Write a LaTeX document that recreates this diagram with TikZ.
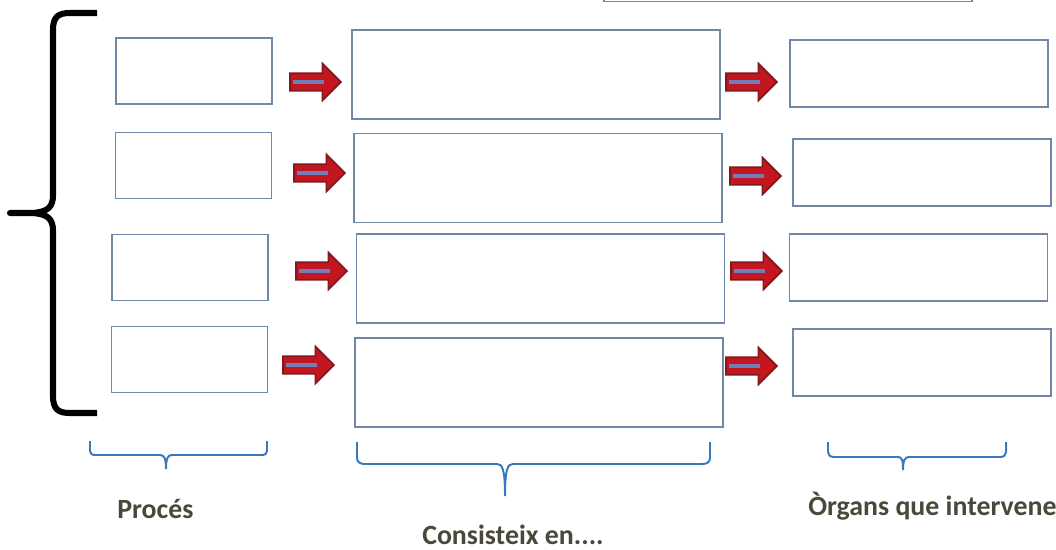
\documentclass[tikz,border=0pt]{standalone}
\usepackage{fontspec}
\setmainfont{Carlito}
\usetikzlibrary{shapes.arrows,positioning}

\definecolor{boxline}{RGB}{112,136,166}
\definecolor{bracecol}{RGB}{58,120,190}
\definecolor{arrowfill}{RGB}{196,22,30}
\definecolor{arrowline}{RGB}{130,24,30}
\definecolor{barcol}{RGB}{112,126,190}
\definecolor{textcol}{RGB}{74,72,58}

\begin{document}
\begin{tikzpicture}
    [x=0.025cm,y=-0.025cm,
    box/.style={rectangle,draw=boxline,line width=0.9pt,
    inner sep=0pt,outer sep=0pt},
    procbox/.style={box,minimum width=3.9cm,minimum height=1.65cm},
    widebox/.style={box,minimum width=9.2cm,minimum height=2.225cm},
    organbox/.style={box,minimum width=6.45cm,minimum height=1.675cm},
    blockarrow/.style={single arrow,fill=arrowfill,draw=arrowline,line width=1.2pt,
    minimum height=1.27cm,minimum width=0.9cm,inner xsep=0pt,inner ysep=0.2cm,
    single arrow head extend=0.24cm},
    bar/.style={barcol,line width=3.4pt},
    bigbrace/.style={line width=4.3pt,line join=round},
    smallbrace/.style={draw=bracecol,line width=1.4pt},
    caption/.style={text=textcol,font=\fontsize{19.8}{22}\selectfont\bfseries,
    inner sep=0pt,anchor=base west}]
    \useasboundingbox (0,0) rectangle (1056,549);
    \clip (0,0) rectangle (1056,549);
    % box at the top, cut by the edge
    \node[widebox] (top) at (788,-43) {};
    % processes
    \node[procbox] (proc1) at (194,71) {};
    \node[procbox] (proc2) at (193.5,165.5) {};
    \node[procbox] (proc3) at (190,267.5) {};
    \node[procbox] (proc4) at (189.5,359.5) {};
    % what they consist of
    \node[widebox] (cons1) at (536,74.5) {};
    \node[widebox] (cons2) at (538,178) {};
    \node[widebox] (cons3) at (540.5,278.5) {};
    \node[widebox] (cons4) at (539,382.5) {};
    % organs
    \node[organbox] (organ1) at (919,73.5) {};
    \node[organbox] (organ2) at (922,172.5) {};
    \node[organbox] (organ3) at (918.5,267.5) {};
    \node[organbox] (organ4) at (922,362.5) {};
    % arrows
    \node[blockarrow] (left1) at (311,82) {};
    \node[blockarrow] (left2) at (315,173) {};
    \node[blockarrow] (left3) at (317,271) {};
    \node[blockarrow] (left4) at (304,365) {};
    \node[blockarrow] (right1) at (747,82) {};
    \node[blockarrow] (right2) at (751,176) {};
    \node[blockarrow] (right3) at (752,271) {};
    \node[blockarrow] (right4) at (747,366) {};
    \foreach \a in {left1,left2,left3,left4,right1,right2,right3,right4}
        \draw[bar] ([xshift=0.1cm]\a.tail) -- ([xshift=-0.45cm]\a.tip);
    % big brace on the left
    \draw[bigbrace] (97,13) -- (70,13) .. controls (58,13) and (53,17) .. (53,30)
        -- (53,195) .. controls (53,207) and (48,212) .. (32,213) -- (10,213)
        -- (32,213) .. controls (48,214) and (53,219) .. (53,231)
        -- (53,396) .. controls (53,409) and (58,413) .. (70,413) -- (97,413);
    % small braces
    \draw[smallbrace] (90,441) -- (90,451) .. controls (90,454) and (92,455) .. (96,455)
        -- (160,455) .. controls (164,455) and (166,458) .. (166,469)
        .. controls (166,458) and (168,455) .. (172,455) -- (261,455)
        .. controls (265,455) and (267,454) .. (267,451) -- (267,441);
    \draw[smallbrace] (357,442) -- (357,458) .. controls (357,462) and (360,464) .. (365,464)
        -- (497,464) .. controls (502,464) and (505,468) .. (505,496)
        .. controls (505,468) and (508,464) .. (513,464) -- (702,464)
        .. controls (707,464) and (710,462) .. (710,458) -- (710,442);
    \draw[smallbrace] (828,442) -- (828,452) .. controls (828,455) and (830,457) .. (834,457)
        -- (898,457) .. controls (902,457) and (903,460) .. (903,470)
        .. controls (903,460) and (905,457) .. (909,457) -- (1000,457)
        .. controls (1004,457) and (1006,455) .. (1006,452) -- (1006,442);
    % captions
    \node[caption] (procname) at (117,518) {Procés};
    \node[caption] (consname) at (422,544) {Consisteix en....};
    \node[caption] (organname) at (808,515) {Òrgans que intervene};
\end{tikzpicture}
\end{document}
